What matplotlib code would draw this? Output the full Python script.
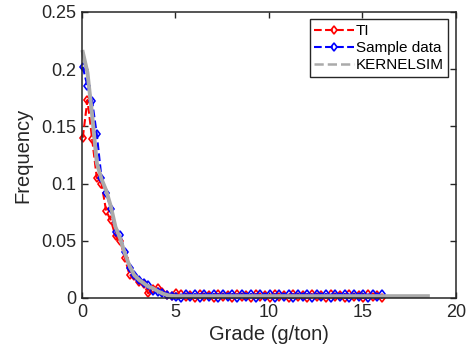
import matplotlib
matplotlib.use("Agg")
import matplotlib.pyplot as plt
from matplotlib.lines import Line2D

# Bin centres (g/ton) for the histogram frequencies
grade = [0.05, 0.30, 0.55, 0.80, 1.05, 1.30, 1.55, 1.80, 2.05, 2.30,
         2.55, 2.80, 3.05, 3.30, 3.55, 3.80, 4.05, 4.30, 4.55, 4.80,
         5.05, 5.30, 5.55, 5.80, 6.05, 6.30, 6.55, 6.80, 7.05, 7.30,
         7.55, 7.80, 8.05, 8.30, 8.55, 8.80, 9.05, 9.30, 9.55, 9.80,
         10.05, 10.30, 10.55, 10.80, 11.05, 11.30, 11.55, 11.80, 12.05, 12.30,
         12.55, 12.80, 13.05, 13.30, 13.55, 13.80, 14.05, 14.30, 14.55, 14.80,
         15.05, 15.30, 15.55, 15.80, 16.05]

# Training image frequencies
ti = [0.140, 0.173, 0.139, 0.105, 0.100, 0.076, 0.068, 0.054, 0.050, 0.035,
      0.020, 0.019, 0.014, 0.012, 0.004, 0.008, 0.0085, 0.005, 0.003, 0.0015,
      0.0040, 0.0035, 0.0005, 0.0030, 0.0000, 0.0035, 0.0005, 0.0030, 0.0000, 0.0035,
      0.0005, 0.0030, 0.0000, 0.0035, 0.0005, 0.0030, 0.0000, 0.0035, 0.0005, 0.0030,
      0.0000, 0.0035, 0.0005, 0.0030, 0.0000, 0.0035, 0.0005, 0.0030, 0.0000, 0.0035,
      0.0005, 0.0030, 0.0000, 0.0035, 0.0005, 0.0030, 0.0000, 0.0035, 0.0005, 0.0030,
      0.0000, 0.0035, 0.0005, 0.0030, 0.0000]

# Sample data frequencies
sample = [0.202, 0.185, 0.172, 0.143, 0.105, 0.092, 0.078, 0.058, 0.055, 0.040,
          0.026, 0.020, 0.016, 0.013, 0.011, 0.006, 0.005, 0.004, 0.003, 0.002,
          0.0005, 0.0000, 0.0035, 0.0005, 0.0035, 0.0000, 0.0035, 0.0005, 0.0035, 0.0000,
          0.0035, 0.0005, 0.0035, 0.0000, 0.0035, 0.0005, 0.0035, 0.0000, 0.0035, 0.0005,
          0.0035, 0.0000, 0.0035, 0.0005, 0.0035, 0.0000, 0.0035, 0.0005, 0.0035, 0.0000,
          0.0035, 0.0005, 0.0035, 0.0000, 0.0035, 0.0005, 0.0035, 0.0000, 0.0035, 0.0005,
          0.0035, 0.0000, 0.0035, 0.0005, 0.0035]

# KERNELSIM realisation
kgrade = [0.05, 0.30, 0.55, 0.80, 1.05, 1.30, 1.55, 1.80, 2.05, 2.30,
          2.55, 2.80, 3.05, 3.30, 3.55, 3.80, 4.05, 4.30, 4.55, 4.80,
          5.05, 5.50, 6.00, 8.00, 10.00, 12.00, 14.00, 16.00, 18.50]
kernel = [0.215, 0.197, 0.160, 0.118, 0.104, 0.094, 0.080, 0.062, 0.052, 0.039,
          0.028, 0.020, 0.016, 0.013, 0.010, 0.0085, 0.006, 0.004, 0.0026, 0.0018,
          0.0016, 0.0016, 0.0016, 0.0016, 0.0016, 0.0016, 0.0016, 0.0016, 0.0016]

plt.rcParams['font.family'] = ['Liberation Sans', 'DejaVu Sans']
axcol = '#262626'

fig = plt.figure(figsize=(4.73, 3.59), dpi=100)
ax = fig.add_axes([0.173, 0.170, 0.791, 0.797])

ax.plot(grade, ti, '--', color='red', lw=1.5, marker='d', ms=4.5, mfc='none',
        mew=1.2, clip_on=False)
ax.plot(grade, sample, '--', color='blue', lw=1.5, marker='d', ms=4.5, mfc='none',
        mew=1.2, clip_on=False)
ax.plot(kgrade, kernel, '-', color='#aaaaaa', lw=2.8, clip_on=False)

ax.set_xlim(0, 20)
ax.set_ylim(0, 0.25)
ax.set_xticks([0, 5, 10, 15, 20])
ax.set_yticks([0, 0.05, 0.1, 0.15, 0.2, 0.25])
ax.set_yticklabels(['0', '0.05', '0.1', '0.15', '0.2', '0.25'])
ax.tick_params(direction='in', top=True, right=True, length=4, width=1,
               colors=axcol, labelsize=13, pad=4)
for sp in ax.spines.values():
    sp.set_color(axcol)
    sp.set_linewidth(1.1)

ax.set_xlabel('Grade (g/ton)', fontsize=14.5, color=axcol, labelpad=3)
ax.set_ylabel('Frequency', fontsize=14.5, color=axcol, labelpad=6)

handles = [
    Line2D([], [], ls='--', color='red', lw=1.5, marker='d', ms=4.5, mfc='none', mew=1.2),
    Line2D([], [], ls='--', color='blue', lw=1.5, marker='d', ms=4.5, mfc='none', mew=1.2),
    Line2D([], [], ls='--', color='#aaaaaa', lw=1.8),
]
leg = ax.legend(handles, ['TI', 'Sample data', 'KERNELSIM'], loc='upper right',
                fontsize=11, fancybox=False, edgecolor=axcol, framealpha=1,
                handlelength=2.6, handletextpad=0.1, borderpad=0.3,
                labelspacing=0.2, borderaxespad=0.5)
leg.get_frame().set_linewidth(1.0)

fig.savefig('out.png', dpi=100)
